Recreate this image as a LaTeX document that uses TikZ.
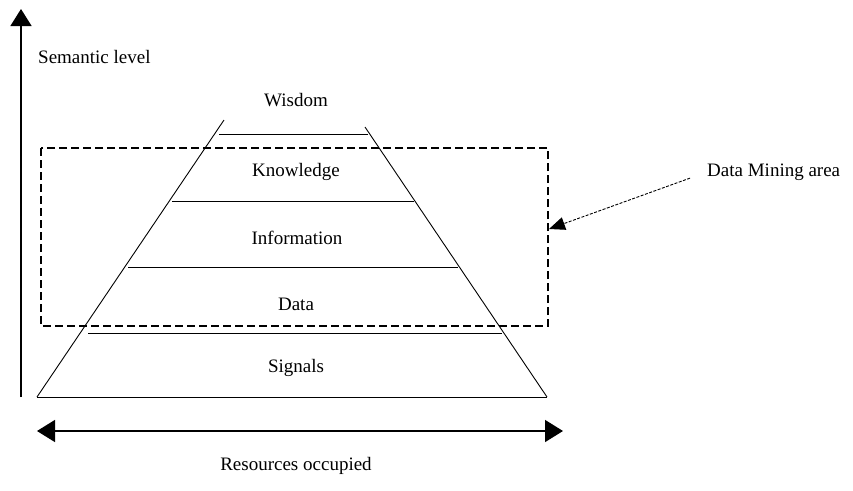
\documentclass[tikz,border=0pt]{standalone}
\usepackage{fontspec}
\setmainfont{Liberation Serif}
\usetikzlibrary{arrows.meta}
\begin{document}
\begin{tikzpicture}[x=1pt,y=-1pt,
  lbl/.style={font=\fontsize{19}{22}\selectfont, inner sep=0pt},
  layer/.style={line width=0.9pt},
  axis/.style={line width=1.4pt, -{Triangle[length=17pt,width=21pt]}},
  axisboth/.style={line width=1.4pt, {Triangle[length=18pt,width=22pt]}-{Triangle[length=18pt,width=22pt]}},
  dmbox/.style={line width=2.4pt, dash pattern=on 8pt off 4pt},
  dmarrow/.style={line width=0.9pt, dash pattern=on 3pt off 1.5pt, -{Triangle[length=16pt,width=13pt]}}]
\useasboundingbox (0,0) rectangle (853,490);

% vertical axis
\coordinate (vbot) at (21,397);
\coordinate (vtop) at (21,9);
\draw[axis] (vbot) -- (vtop);
\node[lbl, anchor=west] (sem) at (38,57) {Semantic level};

% pyramid sides
\draw[layer] (37,397) -- (224,120);
\draw[layer] (547,397) -- (365,127);
% layer boundaries
\draw[layer] (219,134) -- (368,134);
\draw[layer] (172,201) -- (414,201);
\draw[layer] (128,267) -- (458,267);
\draw[layer] (88,333) -- (502,333);
\draw[layer] (37,397) -- (547,397);

% layer names
\node[lbl] (wis) at (296,100) {Wisdom};
\node[lbl] (kno) at (296,172) {Knowledge};
\node[lbl] (inf) at (297,238) {Information};
\node[lbl] (dat) at (296,304) {Data};
\node[lbl] (sig) at (296,368) {Signals};

% data mining region
\draw[dmbox] (41,148) rectangle (548,326);
\coordinate (dmtip) at (549,229);
\node[lbl, anchor=west] (dm) at (707,172) {Data Mining area};
\draw[dmarrow, shorten <=18pt] (dm.west) -- (dmtip);

% horizontal axis
\coordinate (hl) at (37,431);
\coordinate (hr) at (563,431);
\draw[axisboth] (hl) -- (hr);
\node[lbl] (res) at (296,466) {Resources occupied};
\end{tikzpicture}
\end{document}
